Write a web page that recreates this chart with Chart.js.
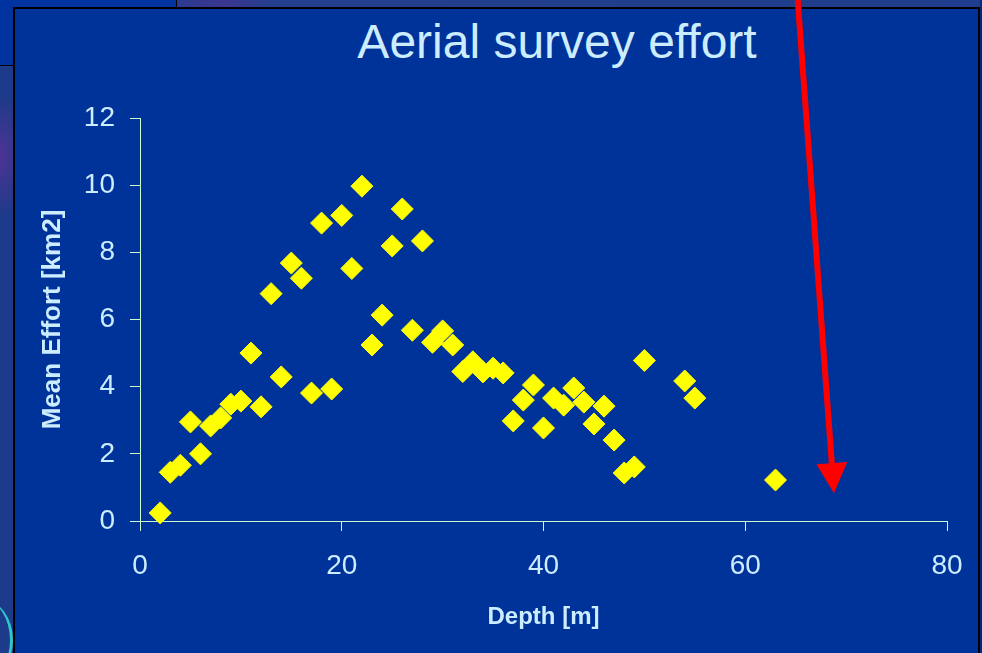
<!DOCTYPE html>
<html>
<head>
<meta charset="utf-8">
<title>Aerial survey effort</title>
<script src="https://cdn.jsdelivr.net/npm/chart.js@4/dist/chart.umd.min.js"></script>
<style>
  html, body { margin: 0; padding: 0; }
  body {
    width: 982px; height: 653px; overflow: hidden; position: relative;
    background: #1f3a88;
    font-family: "Liberation Sans", Arial, sans-serif;
  }
  .strip-top {
    position: absolute; left: 176px; top: 0; width: 806px; height: 8px;
    background: linear-gradient(90deg, #2a3c90 0%, #3b358f 6%, #233f8e 12%, #1f3d8c 100%);
  }
  .corner {
    position: absolute; left: 0; top: 0; width: 176px; height: 65px;
    background: #0033a0; border-right: 1px solid #000; border-bottom: 1px solid #000;
  }
  .strip-left {
    position: absolute; left: 0; top: 66px; width: 14px; height: 587px;
    background:
      radial-gradient(ellipse 30px 60px at 0px 90px, rgba(90,50,150,0.8), rgba(90,50,150,0) 100%),
      #1e3a8a;
  }
  .arc {
    position: absolute; left: -47px; top: 600px; width: 60px; height: 80px;
    border-radius: 50%; border-right: 3px solid #2ec8c8; box-sizing: border-box;
  }
  .strip-right {
    position: absolute; left: 980px; top: 0; width: 2px; height: 653px; background: #002a80;
  }
  .panel {
    position: absolute; left: 13px; top: 7px; width: 967px; height: 700px;
    box-sizing: border-box; background: #003399; border: 2px solid #000;
  }
  .title {
    position: absolute; left: 0; top: 18px; width: 1114px; text-align: center;
    font-size: 48px; line-height: 48px; color: #ccecff; white-space: nowrap;
  }
  #chart { position: absolute; left: 0; top: 0; }
</style>
</head>
<body>
<div class="strip-top"></div>
<div class="corner"></div>
<div class="strip-left"></div>
<div class="arc"></div>
<div class="strip-right"></div>
<div class="panel"></div>
<div class="title">Aerial survey effort</div>
<canvas id="chart" width="982" height="653"></canvas>
<script>
// Mean aerial survey effort per depth bin
const depths = [2, 3, 4, 5, 6, 7, 8, 9, 10, 11, 12, 13, 14, 15, 16, 17, 18, 19, 20, 21,
                22, 23, 24, 25, 26, 27, 28, 29, 30, 31, 32, 33, 34, 35, 36, 37, 38, 39, 40, 41,
                42, 43, 44, 45, 46, 47, 48, 49, 50, 54, 55, 63];
const meanEffort = [0.24, 1.45, 1.66, 2.95, 2.0, 2.83, 3.07, 3.48, 3.57, 5.0, 3.4, 6.77, 4.29, 7.68, 7.23, 3.81, 8.87, 3.93, 9.1, 7.52,
                    9.97, 5.24, 6.13, 8.19, 9.29, 5.68, 8.34, 5.32, 5.66, 5.24, 4.45, 4.74, 4.44, 4.55, 4.41, 2.98, 3.6, 4.05, 2.77, 3.66,
                    3.45, 3.96, 3.54, 2.89, 3.42, 2.41, 1.43, 1.61, 4.78, 4.17, 3.66, 1.22];
const xTicks = [0, 20, 40, 60, 80];
const yTicks = [0, 2, 4, 6, 8, 10, 12];

// Red pointer arrow, given in data units (tail and head tip)
const arrowTail = { x: 65.2, y: 15.52 };
const arrowTip = { x: 68.8, y: 0.83 };

const textColor = '#ccecff';
const axisColor = '#ccffcc';

const points = depths.map((d, i) => ({ x: d, y: meanEffort[i] }));

const arrowPlugin = {
  id: 'arrow',
  afterDatasetsDraw(chart) {
    const { ctx, scales: { x, y } } = chart;
    const x0 = x.getPixelForValue(arrowTail.x), y0 = y.getPixelForValue(arrowTail.y);
    const x1 = x.getPixelForValue(arrowTip.x), y1 = y.getPixelForValue(arrowTip.y);
    const ang = Math.atan2(y1 - y0, x1 - x0);
    const headLen = 30, headHalf = 15.5;
    const bx = x1 - Math.cos(ang) * headLen, by = y1 - Math.sin(ang) * headLen;
    ctx.save();
    ctx.strokeStyle = '#ff0000';
    ctx.fillStyle = '#ff0000';
    ctx.lineWidth = 6;
    ctx.beginPath();
    ctx.moveTo(x0, y0);
    ctx.lineTo(bx + Math.cos(ang) * 2, by + Math.sin(ang) * 2);
    ctx.stroke();
    ctx.beginPath();
    ctx.moveTo(x1, y1);
    ctx.lineTo(bx - Math.sin(ang) * headHalf, by + Math.cos(ang) * headHalf);
    ctx.lineTo(bx + Math.sin(ang) * headHalf, by - Math.cos(ang) * headHalf);
    ctx.closePath();
    ctx.fill();
    ctx.restore();
  }
};

new Chart(document.getElementById('chart'), {
  type: 'scatter',
  data: {
    datasets: [{
      label: 'Mean Effort',
      data: points,
      pointStyle: 'rectRot',
      pointRadius: 11,
      pointHoverRadius: 11,
      backgroundColor: '#ffff00',
      borderColor: '#ffff00',
      borderWidth: 1,
      clip: false
    }]
  },
  options: {
    responsive: false,
    animation: false,
    events: [],
    layout: { padding: { left: 14, right: 35, top: 118, bottom: 0 } },
    plugins: {
      legend: { display: false },
      tooltip: { enabled: false },
      title: { display: false }
    },
    scales: {
      x: {
        type: 'linear',
        min: 0, max: 80,
        afterFit(scale) { scale.height = 132; },
        afterBuildTicks(scale) { scale.ticks = xTicks.map(v => ({ value: v })); },
        grid: { drawOnChartArea: false, drawTicks: true, tickLength: 10, color: axisColor },
        border: { display: true, color: axisColor, width: 1 },
        ticks: {
          color: textColor, padding: 18,
          font: { family: '"Liberation Sans", Arial, sans-serif', size: 28 }
        },
        title: {
          display: true, text: 'Depth [m]', color: textColor,
          padding: { top: 0, bottom: 21 },
          font: { family: '"Liberation Sans", Arial, sans-serif', size: 24, weight: 'bold' }
        }
      },
      y: {
        type: 'linear',
        min: 0, max: 12,
        afterFit(scale) { scale.width = 126; },
        afterBuildTicks(scale) { scale.ticks = yTicks.map(v => ({ value: v })); },
        grid: { drawOnChartArea: false, drawTicks: true, tickLength: 10, color: axisColor },
        border: { display: true, color: axisColor, width: 1 },
        ticks: {
          color: textColor, padding: 15,
          font: { family: '"Liberation Sans", Arial, sans-serif', size: 28 }
        },
        title: {
          display: true, text: 'Mean Effort [km2]', color: textColor,
          padding: { top: 23, bottom: 0 },
          font: { family: '"Liberation Sans", Arial, sans-serif', size: 26, weight: 'bold' }
        }
      }
    }
  },
  plugins: [arrowPlugin]
});
</script>
</body>
</html>
